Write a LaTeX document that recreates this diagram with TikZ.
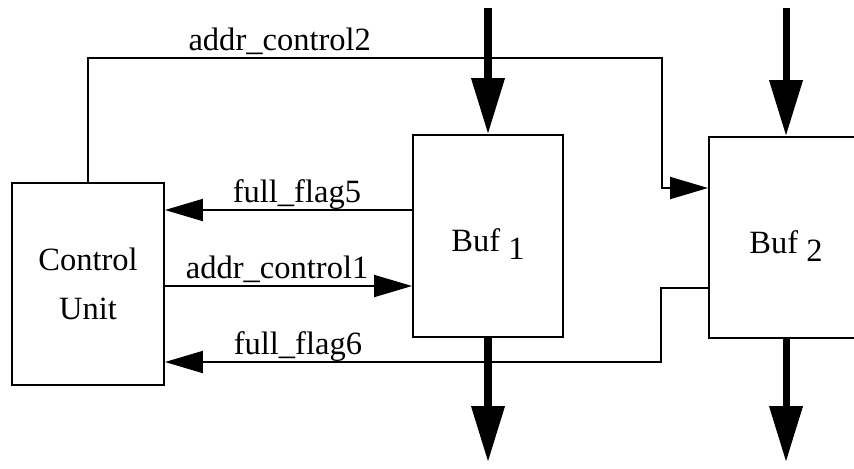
\documentclass[tikz,border=0pt]{standalone}
\usepackage{fontspec}
\setmainfont{Liberation Serif}
\usetikzlibrary{arrows.meta,calc}
\newcommand\diafont{\fontsize{18.5}{28}\selectfont}

\begin{document}
\begin{tikzpicture}[x=0.02cm,y=-0.02cm,>=Triangle,
  blk/.style={draw,line width=1.1pt,minimum width=3.04cm,minimum height=4.04cm,align=center,font=\diafont,inner sep=0pt},
  bufbox/.style={blk,text height=18pt,text depth=0pt},
  sig/.style={line width=1.1pt,-{Triangle[length=0.76cm,width=0.44cm]}},
  data/.style={line width=4pt,-{Triangle[length=1.12cm,width=0.64cm]}},
  lbl/.style={font=\diafont,anchor=base,yshift=4.5pt,inner sep=0pt}]
  \useasboundingbox (0,0) rectangle (854,468);
  % blocks
  \node[blk] (cu) at (88,284) {Control\\Unit};
  \node[bufbox,minimum width=3cm] (buf1) at (488,236) {Buf\ \raisebox{-4.5pt}{1}};
  \node[bufbox,minimum width=3.08cm,minimum height=4.02cm] (buf2) at (786,237.5) {Buf\ \raisebox{-4.5pt}{2}};
  % bends of the control lines
  \coordinate (j2) at (662,58);
  \coordinate (r2) at (662,188);
  \coordinate (r6) at (661,288);
  \coordinate (s6) at (661,362);
  % data in and out
  \coordinate (in1) at (buf1.north |- 0,8);
  \coordinate (in2) at (buf2.north |- 0,8);
  \coordinate (out1) at (buf1.south |- 0,462);
  \coordinate (out2) at (buf2.south |- 0,462);
  \draw[data] (in1) -- (buf1.north);
  \draw[data] (in2) -- (buf2.north);
  \draw[data] (buf1.south) -- (out1);
  \draw[data] (buf2.south) -- (out2);
  % control signals
  \draw[sig] (cu.north) |- node[lbl,pos=0.667]{addr\_control2} (j2) -- (r2) -- (buf2.west |- r2);
  \draw[sig] (buf1.west |- 0,210) -- node[lbl,pos=0.466]{full\_flag5} (cu.east |- 0,210);
  \draw[sig] (cu.east |- 0,286) -- node[lbl,pos=0.454]{addr\_control1} (buf1.west |- 0,286);
  \draw[sig] (buf2.west |- r6) -- (r6) -- (s6) -- node[lbl,pos=0.732]{full\_flag6} (cu.east |- s6);
\end{tikzpicture}
\end{document}
